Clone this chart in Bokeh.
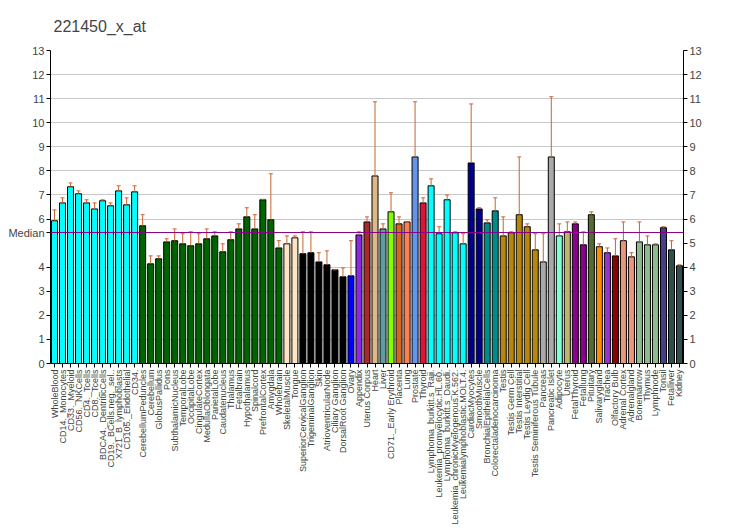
import math
from bokeh.plotting import figure
from bokeh.models import Range1d, FixedTicker, LinearAxis, Span, ColumnDataSource
from bokeh.embed import file_html
from bokeh.resources import INLINE

names = ["WholeBlood", "CD14._Monocytes", "CD33._Myeloid", "CD56._NKCells", "CD4._Tcells",
         "CD8._Tcells", "BDCA4._DentriticCells", "CD19._BCells.neg._sel..", "X721_B_lymphoblasts",
         "CD105._Endothelial", "CD34.", "CerebellumPeduncles", "Cerebellum", "GlobusPallidus", "Pons",
         "SubthalamicNucleus", "TemporalLobe", "OccipitalLobe", "CingulateCortex", "MedullaOblongata",
         "ParietalLobe", "Caudatenucleus", "Thalamus", "Fetalbrain", "Hypothalamus", "Spinalcord",
         "PrefrontalCortex", "Amygdala", "Wholebrain", "SkeletalMuscle", "Tongue",
         "SuperiorCervicalGanglion", "TrigeminalGanglion", "Skin", "AtrioventricularNode",
         "Ciliary Ganglion", "DorsalRoot Ganglion", "Ovary", "Appendix", "Uterus Corpus", "Heart",
         "Liver", "CD71._Early Erythroid", "Placenta", "Lung", "Prostate", "Thyroid",
         "Lymphoma_burkitt.s_Raji.", "Leukemia_promyelocytic.HL.60.", "Lymphoma_burkitt.s_Daudi.",
         "Leukemia_chronicMyelogenous.K.562.", "Leukemialymphoblastic.MOLT.4.", "CardiacMyocytes",
         "SmoothMuscle", "BronchialEpithelialCells", "Colorectaladenocarcinoma", "Testis",
         "Testis Germ Cell", "Testis Interstitial", "Testis Leydig Cell", "Testis Seminiferous Tubule",
         "Pancreas", "Pancreatic Islet", "Adipocyte", "Uterus", "FetalThyroid", "Fetallung",
         "Pituitary", "Salivarygland", "Trachea", "Olfactory Bulb", "Adrenal Cortex", "Adrenalgland",
         "Bonemarrow", "Thymus", "Lymphnode", "Tonsil", "Fetalliver", "Kidney"]

values = [5.93, 6.67, 7.34, 7.05, 6.67, 6.42, 6.76, 6.55, 7.17, 6.59, 7.13,
          5.72, 4.14, 4.35, 5.05, 5.10, 4.97, 4.89, 4.97, 5.18, 5.30, 4.64, 5.14, 5.59,
          6.09, 5.59, 6.80, 5.97, 4.80, 4.97, 5.22, 4.56, 4.60, 4.22, 4.10, 3.89, 3.60,
          3.64, 5.34, 5.88, 7.79, 5.59, 6.30, 5.80, 5.88, 8.58, 6.67, 7.38, 5.39, 6.80,
          5.43, 4.97, 8.33, 6.42, 5.84, 6.34, 5.30, 5.43, 6.18, 5.68, 4.72, 4.22, 8.58,
          5.30, 5.47, 5.80, 4.93, 6.18, 4.85, 4.60, 4.47, 5.10, 4.43, 5.05, 4.93, 4.93,
          5.64, 4.72, 4.06]

err_top = [6.38, 6.88, 7.50, 7.17, 6.80, 6.67, 6.80, 6.67, 7.38, 6.88, 7.38,
           6.18, 4.47, 4.47, 5.18, 5.59, 5.39, 5.47, 5.39, 5.59, 5.47, 4.97, 5.47, 5.80,
           6.47, 6.18, 6.82, 7.88, 5.10, 5.30, 5.30, 5.47, 5.47, 4.60, 4.68, 3.89, 3.97,
           5.10, 5.47, 6.09, 10.87, 5.80, 7.09, 6.09, 5.88, 10.87, 6.88, 7.67, 5.68, 7.00,
           5.47, 5.39, 10.78, 6.47, 5.97, 6.88, 6.09, 5.47, 8.58, 5.80, 5.39, 5.39, 11.08,
           5.80, 5.88, 5.88, 5.47, 6.30, 4.97, 4.80, 5.18, 5.88, 4.60, 5.88, 5.30, 4.97,
           5.68, 5.10, 4.10]

colors = (["#00FFFF"] * 11 + ["#006400"] * 18 + ["#FFE4C4"] * 2 + ["#000000"] * 6 +
          ["#0000FF", "#8A2BE2", "#A52A2A", "#DEB887", "#5F9EA0", "#7FFF00", "#D2691E",
           "#FF7F50", "#6495ED", "#DC143C"] + ["#00FFFF"] * 5 + ["#00008B"] * 2 +
          ["#008B8B"] * 2 + ["#B8860B"] * 5 + ["#A9A9A9"] * 2 +
          ["#7FFFD4", "#BDB76B", "#8B008B", "#8B008B", "#556B2F", "#FF8C00", "#9932CC",
           "#8B0000", "#E9967A", "#E9967A", "#8FBC8F", "#8FBC8F", "#8FBC8F", "#483D8B",
           "#2F4F4F", "#2F4F4F"])

median_value = 5.44
grid_ticks = [0, 1, 2, 3, 4, 6, 7, 8, 9, 10, 11, 12, 13]
left_ticks = [0, 1, 2, 3, 4, median_value, 6, 7, 8, 9, 10, 11, 12, 13]
right_ticks = list(range(14))

xs = list(range(len(names)))
src = ColumnDataSource(dict(x=xs, top=values, color=colors, etop=err_top,
                            cl=[x - 0.25 for x in xs], cr=[x + 0.25 for x in xs]))

FONT = "Liberation Sans"

p = figure(width=732, height=530, output_backend="svg", toolbar_location=None,
           x_range=Range1d(-0.5, len(names) - 0.5), y_range=Range1d(0, 13),
           min_border_left=50, min_border_right=49, min_border_top=50, min_border_bottom=167,
           title="221450_x_at")
p.outline_line_color = None
p.background_fill_color = "white"
p.border_fill_color = "white"
p.title.text_font = FONT
p.title.text_font_size = "16px"
p.title.text_font_style = "normal"
p.title.offset = 3
p.title.standoff = 31

p.xgrid.visible = False
p.ygrid.ticker = FixedTicker(ticks=grid_ticks)
p.ygrid.grid_line_color = "#C8C8C8"
p.ygrid.grid_line_width = 1

p.vbar(x="x", top="top", width=0.75, bottom=0, source=src, fill_color="color",
       line_color="black", line_width=1)
p.segment(x0="x", y0="top", x1="x", y1="etop", source=src, line_color="#C8642F", line_width=1)
p.segment(x0="cl", y0="etop", x1="cr", y1="etop", source=src, line_color="#C8642F", line_width=1)

p.add_layout(Span(location=median_value, dimension="width", line_color="#8B008B", line_width=1))

# axes
xa = p.xaxis[0]
xa.ticker = FixedTicker(ticks=xs)
xa.major_label_overrides = {i: n for i, n in enumerate(names)}
xa.major_label_orientation = math.pi / 2
xa.major_label_text_font = FONT
xa.major_label_text_font_size = "9px"
xa.major_tick_out = 4
xa.major_tick_in = 0
xa.minor_tick_out = 0
xa.major_label_standoff = 2
xa.axis_label = None
xa.axis_line_color = "black"

ya = p.yaxis[0]
ya.ticker = FixedTicker(ticks=left_ticks)
ya.major_label_overrides = {median_value: "Median"}
ya.major_label_text_font = FONT
ya.major_label_text_font_size = "11px"
ya.major_tick_out = 4
ya.major_tick_in = 0
ya.minor_tick_out = 0
ya.major_label_standoff = 2

ra = LinearAxis(ticker=FixedTicker(ticks=right_ticks))
ra.major_label_text_font = FONT
ra.major_label_text_font_size = "11px"
ra.major_tick_out = 4
ra.major_tick_in = 0
ra.minor_tick_out = 0
ra.major_label_standoff = 2
p.add_layout(ra, "right")

open("out.html", "w").write(file_html(p, INLINE))
